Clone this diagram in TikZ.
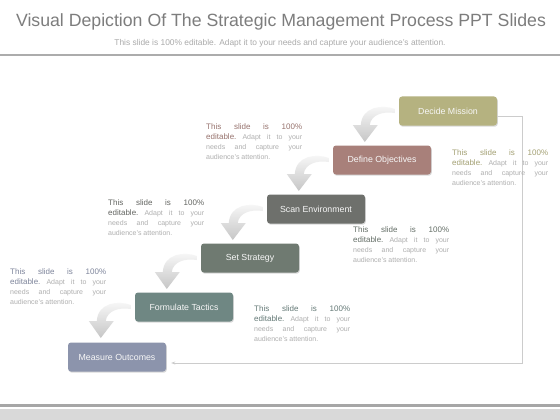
\documentclass[tikz,border=0pt]{standalone}
\usepackage{fontspec}
\setmainfont{Liberation Sans}
\usetikzlibrary{shadows,arrows.meta}
\definecolor{cdecide}{RGB}{181,178,128}
\definecolor{cdefine}{RGB}{168,128,122}
\definecolor{cscan}{RGB}{110,112,108}
\definecolor{cset}{RGB}{111,122,113}
\definecolor{cform}{RGB}{111,135,131}
\definecolor{cmeas}{RGB}{140,148,172}
\definecolor{ctitle}{RGB}{125,125,125}
\definecolor{csub}{RGB}{170,170,170}
\definecolor{crest}{RGB}{175,175,175}
\newcommand\slideblurb[1]{%
\makebox[96pt][s]{\color{#1!90!black}\fontsize{8}{10}\selectfont This\hfill slide\hfill is\hfill 100\%}\\
\makebox[96pt][s]{{\color{#1!90!black}\fontsize{8}{10}\selectfont editable.}\hfill Adapt\hfill it\hfill to\hfill your}\\
\makebox[96pt][s]{needs\hfill and\hfill capture\hfill your}\\
audience's attention.}
\tikzset{
  stepbox/.style={rectangle, rounded corners=3pt, minimum width=98pt, minimum height=29pt,
    inner sep=0pt, text=white!94!gray, font=\fontsize{8.8}{10}\selectfont,
    drop shadow={opacity=0.3, shadow xshift=0.8pt, shadow yshift=-1.2pt}},
  blurb/.style={anchor=north west, inner sep=0pt, align=left, text=crest,
    font=\fontsize{7}{10}\selectfont},
  curvarrow/.style={top color=gray!4, bottom color=gray!45, draw=none},
  link/.style={draw=gray!40, line width=0.8pt},
}
\newcommand\bentarrow[1]{%
  \path[curvarrow, shift={(#1.west)}] (-4,-2) .. controls (-17,-7) and (-37,-4) .. (-38,14)
    -- (-46,14) -- (-34,31) -- (-21,14) -- (-29,14)
    .. controls (-28,4) and (-16,0) .. (-4,2) -- cycle;}
\begin{document}
\begin{tikzpicture}[x=1pt,y=-1pt]
\useasboundingbox (0,0) rectangle (560,420);
\fill[white] (0,0) rectangle (560,420);
% title
\node[anchor=base, text=ctitle, font=\fontsize{17.7}{20}\selectfont, inner sep=0pt] (title) at (281,27)
  {Visual Depiction Of The Strategic Management Process PPT Slides};
\node[anchor=base, text=csub, font=\fontsize{8.4}{10}\selectfont, inner sep=0pt] (sub) at (280,46)
  {This slide is 100\% editable. Adapt it to your needs and capture your audience's attention.};
\fill[gray!65] (0,54.5) rectangle (560,56.5);
\fill[gray!70] (0,403.5) rectangle (560,406.5);
\fill[gray!30] (0,409) rectangle (560,420);
% boxes
\node[stepbox, fill=cdecide] (dm) at (448,111) {Decide Mission};
\node[stepbox, fill=cdefine] (do) at (382,160) {Define Objectives};
\node[stepbox, fill=cscan] (se) at (316,209) {Scan Environment};
\node[stepbox, fill=cset] (ss) at (250,258) {Set Strategy};
\node[stepbox, fill=cform] (ft) at (184,307) {Formulate Tactics};
\node[stepbox, fill=cmeas] (mo) at (117,357) {Measure Outcomes};
% curved arrows
\bentarrow{dm}
\bentarrow{do}
\bentarrow{se}
\bentarrow{ss}
\bentarrow{ft}
% feedback connector
\coordinate (c1) at (522,116);
\coordinate (c2) at (522,363);
\draw[link, -{Stealth[length=4pt,width=3pt]}, shorten >=5pt]
  ([yshift=-5pt]dm.east) -- (c1) -- (c2) -- (c2 -| mo.east);
% blurbs
\node[blurb] (t1) at (206,124) {\slideblurb{cdefine}};
\node[blurb] (t2) at (452,150) {\slideblurb{cdecide}};
\node[blurb] (t3) at (108,200) {\slideblurb{cscan}};
\node[blurb] (t4) at (353,227) {\slideblurb{cset}};
\node[blurb] (t5) at (10,269) {\slideblurb{cmeas}};
\node[blurb] (t6) at (254,306) {\slideblurb{cform}};
\end{tikzpicture}
\end{document}
